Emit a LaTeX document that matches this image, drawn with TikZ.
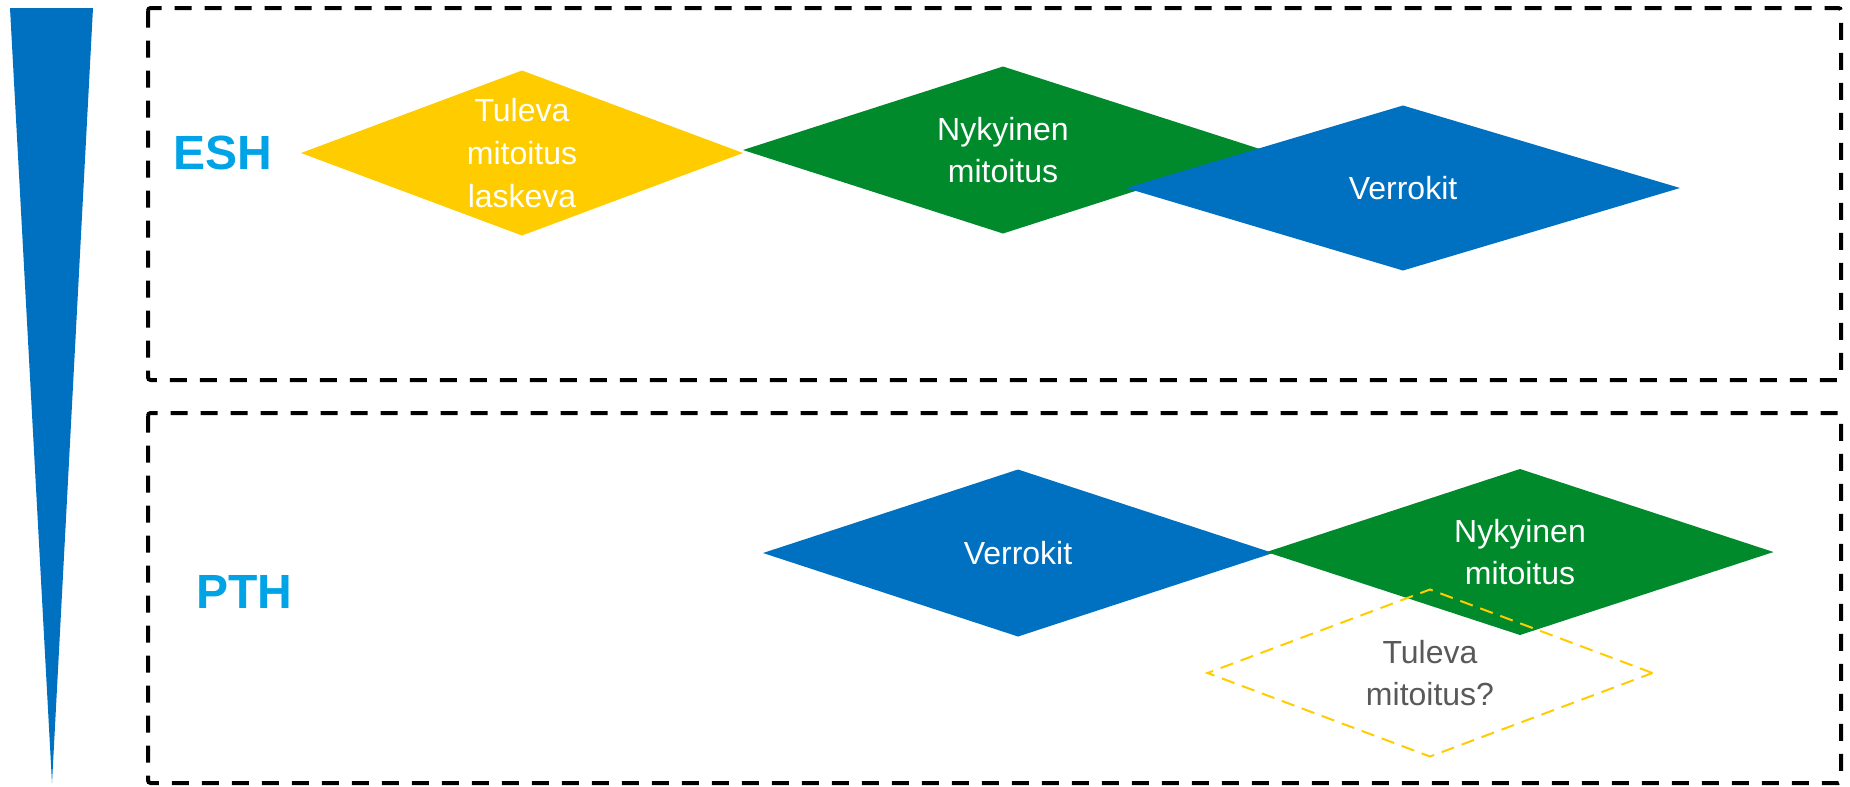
\documentclass[tikz,border=0pt]{standalone}
\usepackage{fontspec}
\setmainfont{Liberation Sans}
\usepackage{tikz}
\usetikzlibrary{shapes.geometric}
\definecolor{azul}{HTML}{0070C0}
\definecolor{verde}{HTML}{008A2B}
\definecolor{amarillo}{HTML}{FFCC00}
\definecolor{celeste}{HTML}{00A3E6}
\definecolor{gris}{HTML}{595959}
\tikzstyle{rombo} = [diamond, inner sep=0pt, outer sep=0pt]
\tikzstyle{texto} = [align=center, text=white, font=\fontsize{24}{32}\selectfont]
\tikzstyle{caja} = [black, line width=3pt, dash pattern=on 12.75pt off 9.75pt, rounded corners=2pt]
\tikzstyle{etiqueta} = [text=celeste, font=\fontsize{36}{40}\selectfont\bfseries]

\begin{document}
\begin{tikzpicture}[x=0.75pt,y=-0.75pt]
		\useasboundingbox (0,0) rectangle (1850,786);
		% cuña de la izquierda
		\fill[azul] (10,8) -- (93,8) -- (52,783) -- cycle;
		% las dos cajas
		\draw[caja] (148,8) rectangle (1841,380);
		\draw[caja] (148,413) rectangle (1841,783);
		\node[etiqueta] (esh) at (223,153) {ESH};
		\node[etiqueta] (pth) at (244,592) {PTH};
		% rombos llenos
		\foreach \Xc/\Yc/\Wd/\Ht/\Col/\Nom/\Texto in 
		{522/153/442/165/amarillo/eshtul/{Tuleva\\mitoitus\\laskeva},
		 1003/150/520/167/verde/eshnyk/{Nykyinen\\mitoitus},
		 1403/188/554/165/azul/eshver/{Verrokit},
		 1018/553/510/167/azul/pthver/{Verrokit},
		 1520/552/507/166/verde/pthnyk/{Nykyinen\\mitoitus}}
		{
			\node[rombo, fill=\Col, minimum width={\Wd*0.75pt}, minimum height={\Ht*0.75pt}] 
			(\Nom) at (\Xc,\Yc) {};
			\node[texto] (\Nom-t) at (\Nom) {\Texto};
		}
		% tuleva mitoitus?
		\node[rombo, draw=amarillo, line width=1.5pt, dash pattern=on 10pt off 6pt, 
			minimum width=333.75pt, minimum height=125.25pt] (pthtul) at (1430,673) {};
		\node[texto, text=gris] (pthtul-t) at (pthtul) {Tuleva\\mitoitus?};
\end{tikzpicture}
\end{document}
